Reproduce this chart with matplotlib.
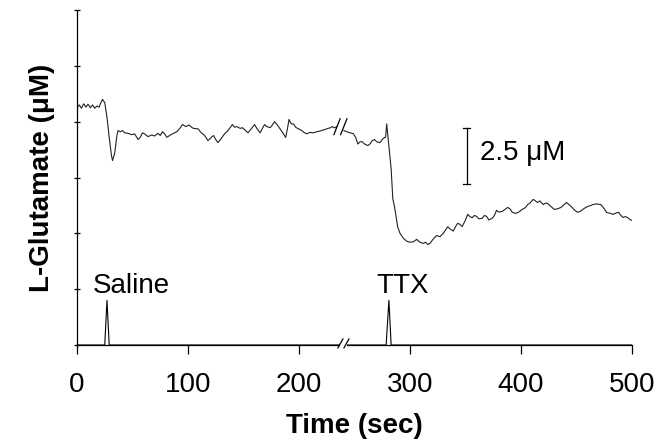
import numpy as np
import matplotlib
matplotlib.use("Agg")
import matplotlib.pyplot as plt
from matplotlib.patches import Rectangle

plt.rcParams['font.family'] = ['Liberation Sans', 'DejaVu Sans']

# ---- data ----
t_seg1 = [0, 2, 4, 6, 8, 10, 12, 14, 16, 18, 20, 21, 23, 25, 27, 29, 31, 32, 34, 36, 37, 39, 41, 43, 46, 49,
          52, 55, 57, 59, 61, 64, 67, 70, 73, 75, 77, 79, 81, 84, 87, 90, 93, 95, 98, 101, 104, 106, 109, 112,
          115, 118, 121, 123, 125, 127, 130, 133, 136, 140, 142, 144, 147, 149, 152, 154, 157, 160, 162, 165,
          167, 169, 171, 174, 176, 178, 181, 184, 186, 188, 190, 191, 193, 195, 197, 199, 202, 205, 207, 210,
          213, 216, 219, 221, 223, 226, 228, 230, 232, 234]
v_seg1 = [10.6, 10.75, 10.6, 10.8, 10.65, 10.78, 10.62, 10.75, 10.6, 10.7, 10.65, 10.8, 11.0, 10.85, 10.2,
          9.3, 8.5, 8.26, 8.6, 9.4, 9.6, 9.55, 9.6, 9.5, 9.48, 9.42, 9.45, 9.2, 9.3, 9.5, 9.45, 9.33, 9.4,
          9.36, 9.48, 9.38, 9.55, 9.45, 9.3, 9.4, 9.48, 9.55, 9.72, 9.87, 9.78, 9.85, 9.72, 9.69, 9.68, 9.5,
          9.38, 9.15, 9.3, 9.38, 9.2, 9.06, 9.25, 9.46, 9.6, 9.87, 9.75, 9.78, 9.7, 9.73, 9.6, 9.5, 9.68,
          9.87, 9.7, 9.5, 9.7, 9.87, 9.78, 9.73, 9.85, 10.0, 9.82, 9.6, 9.46, 9.29, 9.8, 10.1, 9.9, 9.9,
          9.75, 9.69, 9.62, 9.5, 9.46, 9.52, 9.5, 9.55, 9.58, 9.62, 9.64, 9.7, 9.72, 9.78, 9.72, 9.78]

t_seg2 = [240.5, 243, 246, 249, 251, 253, 255, 257, 259, 262, 264, 266, 268, 270, 273, 275, 277, 278, 279,
          281, 283, 284.5, 286, 289, 291, 294, 297, 300, 303, 306, 309, 312, 314, 316, 318, 321, 324, 327,
          330, 332, 334, 336, 339, 341, 343, 345, 347, 350, 352, 354, 356, 358, 360, 362, 365, 367, 369,
          371, 374, 376, 378, 380, 383, 385, 388, 390, 392, 395, 398, 401, 404, 406, 408, 411, 413, 415,
          417, 420, 422, 424, 427, 430, 433, 436, 438, 441, 443, 446, 448, 451, 454, 457, 460, 463, 465,
          468, 470, 472, 475, 477, 480, 483, 486, 488, 490, 492, 494, 496, 498, 500]
v_seg2 = [9.6, 9.55, 9.5, 9.46, 9.3, 9.0, 9.1, 9.1, 9.0, 8.93, 9.0, 9.15, 9.2, 9.1, 9.06, 9.2, 9.29, 9.3,
          9.9, 8.9, 7.9, 6.56, 6.2, 5.27, 5.0, 4.78, 4.65, 4.6, 4.62, 4.73, 4.6, 4.55, 4.6, 4.5, 4.55, 4.75,
          4.9, 4.85, 5.0, 5.15, 5.3, 5.2, 5.1, 5.3, 5.45, 5.4, 5.3, 5.6, 5.85, 5.75, 5.7, 5.8, 5.76, 5.65,
          5.67, 5.8, 5.76, 5.6, 5.67, 5.8, 6.03, 5.95, 5.98, 6.05, 6.16, 6.1, 5.95, 5.89, 5.95, 6.07, 6.15,
          6.29, 6.35, 6.52, 6.45, 6.38, 6.45, 6.29, 6.35, 6.34, 6.2, 6.07, 6.1, 6.16, 6.25, 6.38, 6.3, 6.16,
          6.05, 5.94, 6.0, 6.12, 6.2, 6.25, 6.29, 6.32, 6.3, 6.29, 6.1, 5.94, 5.9, 5.85, 5.92, 5.94, 5.8,
          5.71, 5.75, 5.71, 5.62, 5.58]

pulse_t1 = [0, 25, 27, 29, 236.5]
pulse_v1 = [0, 0, 2.0, 0, 0]
pulse_t2 = [243, 278.5, 281, 283, 500]
pulse_v2 = [0, 0, 2.0, 0, 0]

events = ["Saline", "TTX"]
event_label_t = [49, 293]
event_label_v = [2.32, 2.32]

x_ticks = [0, 100, 200, 300, 400, 500]
y_ticks = [0, 2.5, 5, 7.5, 10, 12.5, 15]

scalebar_t = 351
scalebar_v = [7.2, 9.7]
scalebar_text = "2.5 μM"

# ---- figure ----
FS = 20
fig = plt.figure(figsize=(6.56, 4.46), dpi=100)
ax = fig.add_axes([77/656, 1-345/446, (632-77)/656, (345-10)/446])

lc = '#222222'
ax.plot(t_seg1, v_seg1, color=lc, lw=0.8)
ax.plot(t_seg2, v_seg2, color=lc, lw=0.8)
ax.plot(pulse_t1, pulse_v1, color='black', lw=0.8)
ax.plot(pulse_t2, pulse_v2, color='black', lw=0.8)

for name, tx, vy in zip(events, event_label_t, event_label_v):
    ax.text(tx, vy, name, ha='center', va='baseline', fontsize=FS)

# scale bar
ax.plot([scalebar_t, scalebar_t], scalebar_v, color='black', lw=0.9)
for v in scalebar_v:
    ax.plot([scalebar_t - 3.5, scalebar_t + 3.5], [v, v], color='black', lw=0.9)
ax.text(scalebar_t + 12, 8.3, scalebar_text, ha='left', va='baseline', fontsize=FS)

# break marks on trace
ax.plot([231.5, 237], [9.42, 10.13], color='black', lw=0.9)
ax.plot([237.5, 243.2], [9.42, 10.13], color='black', lw=0.9)

ax.set_xlim(0, 500)
ax.set_ylim(0, 15)
ax.set_xticks(x_ticks)
ax.set_xticklabels([str(x) for x in x_ticks])
ax.set_yticks(y_ticks)
ax.set_yticklabels([])
ax.spines['top'].set_visible(False)
ax.spines['right'].set_visible(False)
for s in ['left', 'bottom']:
    ax.spines[s].set_linewidth(0.9)
ax.tick_params(axis='x', direction='out', length=6.5, width=0.9, labelsize=FS, pad=13)
ax.tick_params(axis='y', direction='inout', length=5, width=0.9)

# break in x axis
ax.add_patch(Rectangle((236.6, -0.15), 6.3, 0.3, facecolor='white', edgecolor='none',
                       zorder=3, clip_on=False, transform=ax.transData))
ax.plot([235, 239.6], [-0.13, 0.27], color='black', lw=0.9, clip_on=False, zorder=4)
ax.plot([240.5, 245], [-0.13, 0.27], color='black', lw=0.9, clip_on=False, zorder=4)

ax.set_xlabel("Time (sec)", fontsize=FS, fontweight='bold', labelpad=11)
ax.set_ylabel("L-Glutamate (μM)", fontsize=FS, fontweight='bold', labelpad=10)

fig.savefig("out.png", dpi=100)
